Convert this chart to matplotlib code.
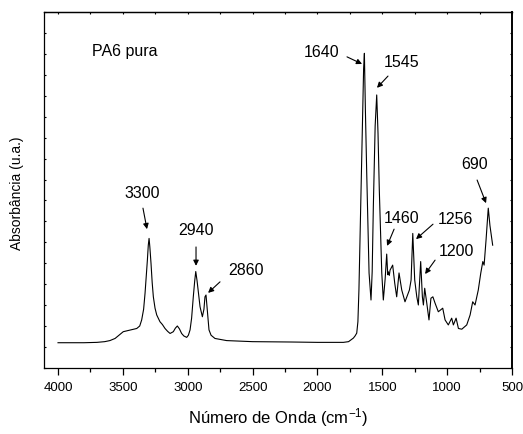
import matplotlib
matplotlib.use("Agg")
import matplotlib.pyplot as plt
from matplotlib.ticker import MultipleLocator, NullFormatter
import numpy as np

plt.rcParams['font.family'] = ['Liberation Sans', 'DejaVu Sans']
plt.rcParams['mathtext.fontset'] = 'custom'
plt.rcParams['mathtext.rm'] = 'Liberation Sans'
plt.rcParams['mathtext.it'] = 'Liberation Sans:italic'

# Spectrum (wavenumber cm^-1, absorbance a.u.)
wavenumber = [4000, 3800, 3700, 3640, 3600, 3560, 3530, 3497, 3450, 3393, 3370, 3355, 3340, 3329,
              3318, 3311, 3304, 3298, 3292, 3283, 3274, 3265, 3252, 3239, 3214, 3195, 3175, 3155,
              3136, 3111, 3095, 3080, 3064, 3047, 3030, 3008, 2995, 2982, 2970, 2957, 2946, 2938,
              2928, 2918, 2905, 2887, 2875, 2867, 2859, 2849, 2836, 2820, 2790, 2700, 2500, 2200,
              2000, 1800, 1760, 1723, 1710, 1697, 1688, 1680, 1672, 1660, 1651, 1644, 1638, 1630,
              1620, 1610, 1602, 1587, 1578, 1569, 1555, 1543, 1533, 1523, 1504, 1492, 1478, 1466,
              1458, 1453, 1446, 1440, 1420, 1404, 1389, 1371, 1350, 1325, 1291, 1278, 1265, 1250,
              1234, 1222, 1204, 1191, 1183, 1173, 1157, 1140, 1125, 1110, 1093, 1068, 1034, 1016,
              991, 965, 952, 931, 913, 887, 849, 823, 803, 785, 760, 741, 725, 715, 700, 683, 670, 649]
absorbance = [0.071, 0.071, 0.072, 0.074, 0.077, 0.083, 0.092, 0.102, 0.106, 0.111, 0.118, 0.135, 0.165, 0.210,
              0.265, 0.303, 0.345, 0.364, 0.340, 0.294, 0.240, 0.200, 0.168, 0.149, 0.130, 0.122, 0.111, 0.103,
              0.097, 0.102, 0.112, 0.118, 0.110, 0.097, 0.090, 0.086, 0.092, 0.107, 0.140, 0.200, 0.245, 0.271,
              0.245, 0.214, 0.172, 0.144, 0.165, 0.200, 0.205, 0.163, 0.107, 0.092, 0.083, 0.077, 0.074, 0.073,
              0.072, 0.072, 0.074, 0.084, 0.090, 0.098, 0.130, 0.220, 0.360, 0.560, 0.734, 0.840, 0.884, 0.720,
              0.547, 0.390, 0.267, 0.191, 0.270, 0.453, 0.680, 0.767, 0.660, 0.500, 0.267, 0.191, 0.250, 0.320,
              0.262, 0.270, 0.260, 0.275, 0.289, 0.238, 0.200, 0.267, 0.219, 0.186, 0.219, 0.247, 0.378, 0.247,
              0.200, 0.177, 0.299, 0.200, 0.177, 0.224, 0.182, 0.135, 0.196, 0.200, 0.182, 0.158, 0.168, 0.135,
              0.121, 0.140, 0.121, 0.140, 0.111, 0.109, 0.121, 0.149, 0.186, 0.177, 0.219, 0.266, 0.299, 0.289, 0.360, 0.449, 0.400, 0.345]

sample_label = "PA6 pura"
peak_labels = ["1640", "1545", "3300", "2940", "2860", "1460", "1256", "1200", "690"]
# text position (x, y), arrow tail, arrow head
peak_text_xy = [(1965, 0.885), (1355, 0.857), (3349, 0.489), (2936, 0.385), (2554, 0.275),
                (1348, 0.421), (935, 0.416), (928, 0.326), (785, 0.573)]
peak_tail_xy = [(1772, 0.874), (1456, 0.820), (3345, 0.449), (2936, 0.340), (2751, 0.242),
                (1409, 0.390), (1109, 0.404), (1093, 0.303), (769, 0.528)]
peak_head_xy = [(1656, 0.854), (1541, 0.787), (3314, 0.390), (2936, 0.287), (2843, 0.211),
                (1463, 0.343), (1240, 0.362), (1170, 0.264), (700, 0.463)]

fig = plt.figure(figsize=(5.23, 4.34), dpi=100)
ax = fig.add_axes([44/523, 1-368/434, 468/523, 356/434])

ax.plot(wavenumber, absorbance, color='black', lw=0.8)
ax.set_xlim(4108, 500)
ax.set_ylim(0, 1)

ax.xaxis.set_major_locator(MultipleLocator(500))
ax.xaxis.set_minor_locator(MultipleLocator(250))
ax.tick_params(axis='x', which='major', direction='out', length=5, width=0.9, labelsize=9.5, pad=5, top=False)
ax.tick_params(axis='x', which='minor', direction='out', length=3, width=0.9, top=False)
ax.set_yticks(np.arange(0, 18) / 17)
ax.yaxis.set_major_formatter(NullFormatter())
ax.tick_params(axis='y', which='major', direction='in', length=1.5, width=0.8, left=True, right=True)

top = ax.secondary_xaxis('top')
top.xaxis.set_major_locator(MultipleLocator(250))
top.xaxis.set_major_formatter(NullFormatter())
top.tick_params(direction='in', length=1.5, width=0.8)
top.spines['top'].set_linewidth(0.9)

for s in ax.spines.values():
    s.set_linewidth(0.9)
ax.spines['right'].set_linewidth(1.4)

ax.set_xlabel("Número de Onda (cm$^{-1}$)", fontsize=12, va='center')
ax.xaxis.set_label_coords(0.5, -0.14)
ax.set_ylabel("Absorbância (u.a.)", fontsize=10, va='center')
ax.yaxis.set_label_coords(-0.058, 0.49)

ax.text(3738, 0.888, sample_label, fontsize=11.5, ha='left', va='center')

for lab, txy, tail, head in zip(peak_labels, peak_text_xy, peak_tail_xy, peak_head_xy):
    ax.text(txy[0], txy[1], lab, fontsize=11.5, ha='center', va='center')
    ax.annotate('', xy=head, xytext=tail,
                arrowprops=dict(arrowstyle='-|>', color='black', lw=0.8,
                                mutation_scale=8, shrinkA=0, shrinkB=0))

fig.savefig("out.png", dpi=100)
